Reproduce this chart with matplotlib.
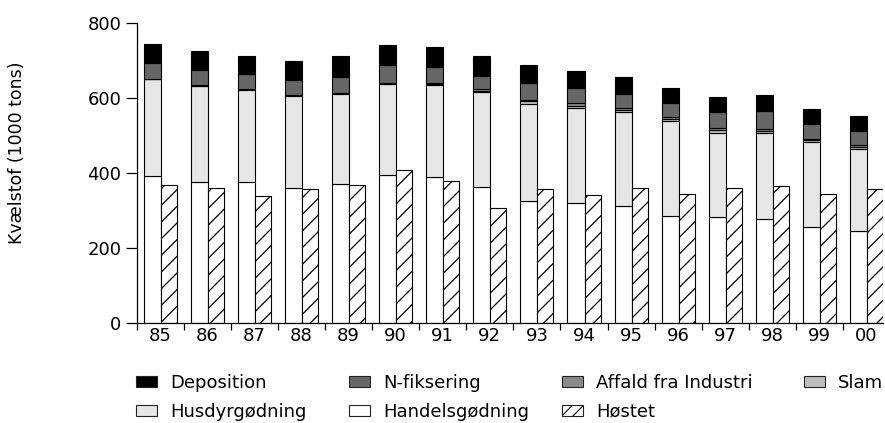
import numpy as np
import matplotlib
matplotlib.use('Agg')
import matplotlib.pyplot as plt
from matplotlib.patches import Patch

plt.rcParams['font.family'] = ['DejaVu Sans']
plt.rcParams['hatch.linewidth'] = 0.9

# 数据（1000 tons）
years = ['85', '86', '87', '88', '89', '90', '91', '92', '93', '94', '95', '96', '97', '98', '99', '00']
handels = [392, 377, 375, 361, 370, 394, 389, 363, 326, 320, 311, 286, 282, 277, 257, 245]
husdyr = [258, 255, 247, 245, 242, 243, 245, 252, 259, 254, 251, 252, 226, 230, 225, 219]
slam = [1, 1, 1, 1, 1, 1, 4, 4, 6, 6, 6, 6, 6, 6, 5, 6]
affald = [1, 1, 1, 1, 1, 1, 3, 4, 5, 6, 6, 5, 5, 5, 5, 5]
nfix = [41, 41, 41, 41, 43, 48, 41, 35, 43, 40, 38, 37, 44, 48, 38, 37]
deposition = [50, 50, 48, 49, 54, 54, 54, 53, 49, 47, 45, 41, 41, 42, 41, 41]
hostet = [369, 361, 339, 357, 369, 408, 380, 307, 357, 342, 361, 343, 361, 366, 345, 358]

stack = [
    ('Handelsgødning', handels, 'white'),
    ('Husdyrgødning', husdyr, '#e6e6e6'),
    ('Slam', slam, '#bdbdbd'),
    ('Affald fra Industri', affald, '#8a8a8a'),
    ('N-fiksering', nfix, '#666666'),
    ('Deposition', deposition, 'black'),
]

fig = plt.figure(figsize=(8.85, 4.23), dpi=100)
ax = fig.add_axes([0.1545, 0.2364, 0.8433, 0.7092])

x = np.arange(len(years))
bottom = np.zeros(len(years))
for name, vals, col in stack:
    ax.bar(x + 0.149, vals, width=0.362, bottom=bottom, align='edge',
           color=col, edgecolor='black', linewidth=0.8)
    bottom += np.array(vals)

ax.bar(x + 0.511, hostet, width=0.34, align='edge', color='white',
       edgecolor='black', linewidth=0.8, hatch='//')

ax.set_xlim(0, len(years) - 1 + 0.851)
ax.set_ylim(0, 800)
ax.set_yticks([0, 200, 400, 600, 800])
ax.set_xticks(x)
ax.set_xticklabels([])
ax.set_xticks(x + 0.5, minor=True)
ax.set_xticklabels(years, minor=True)
ax.tick_params(axis='x', which='major', length=5, width=0.9, direction='out')
ax.tick_params(axis='x', which='minor', length=0, pad=3, labelsize=13)
ax.tick_params(axis='y', length=8, width=0.9, pad=3, labelsize=13)
for s in ['top', 'right']:
    ax.spines[s].set_visible(False)
for s in ['left', 'bottom']:
    ax.spines[s].set_linewidth(0.9)

fig.text(17.5 / 885, 1 - 153 / 423, 'Kvælstof (1000 tons)', rotation=90,
         ha='center', va='center', fontsize=12.5)

# 图例：四列，手动定位
def h(col, hatch=None):
    return Patch(facecolor=col, edgecolor='#222222', linewidth=0.8, hatch=hatch)

columns = [
    (136, [(h('black'), 'Deposition'), (h('#e6e6e6'), 'Husdyrgødning')]),
    (349, [(h('#666666'), 'N-fiksering'), (h('white'), 'Handelsgødning')]),
    (562, [(h('#8a8a8a'), 'Affald fra Industri'), (h('white', '///'), 'Høstet')]),
    (804, [(h('#bdbdbd'), 'Slam')]),
]
for xpix, items in columns:
    leg = fig.legend([i[0] for i in items], [i[1] for i in items],
                     loc='upper left', bbox_to_anchor=(xpix / 885, 1 - 374 / 423),
                     frameon=False, fontsize=13, borderpad=0, borderaxespad=0,
                     handlelength=1.15, handleheight=0.59, handletextpad=0.72,
                     labelspacing=0.6)

fig.savefig('out.png', dpi=100)
plt.close(fig)
